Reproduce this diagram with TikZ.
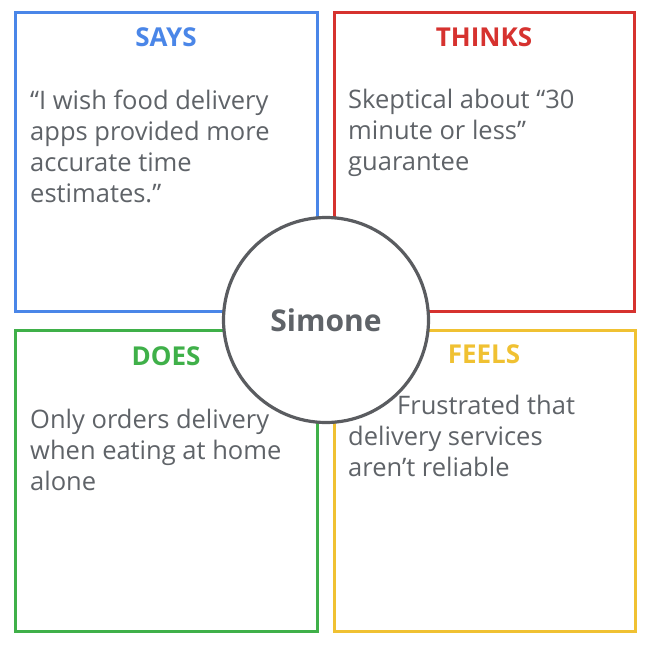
\documentclass[tikz,border=0pt]{standalone}
\usepackage{fontspec}
\setmainfont{Open Sans}
\begin{document}
\begin{tikzpicture}[x=1pt,y=-1pt,
  quad/.style={line width=3pt},
  head/.style={font=\fontsize{26}{30}\selectfont\bfseries, anchor=base, inner sep=0pt},
  % a multi-line node's base anchor sits on its last line
  body/.style={font=\fontsize{25.5}{31}\selectfont, text=txtgray, anchor=base west, align=left, inner sep=0pt},
  hub/.style={circle, draw=hubgray, line width=3.2pt, fill=white, minimum size=205pt, inner sep=0pt,
              font=\fontsize{30}{34}\selectfont\bfseries, text=txtgray}]
\definecolor{gblue}{HTML}{4A86E8}
\definecolor{gred}{HTML}{D6322F}
\definecolor{ggreen}{HTML}{3FB049}
\definecolor{gyellow}{HTML}{F0C132}
\definecolor{txtgray}{HTML}{5F6368}
\definecolor{hubgray}{HTML}{5A5C60}
\useasboundingbox[fill=white] (0,0) rectangle (648,648);

% the four quadrants
\draw[quad, draw=gblue]   (15,12)  rectangle (317,311);
\draw[quad, draw=gred]    (334,12) rectangle (634,311);
\draw[quad, draw=ggreen]  (15,330) rectangle (317,631);
\draw[quad, draw=gyellow] (334,330) rectangle (635,631);

% headings
\node[head, text=gblue]   (says)   at (166,46)  {SAYS};
\node[head, text=gred]    (thinks) at (484,46)  {THINKS};
\node[head, text=ggreen]  (does)   at (166,365) {DOES};
\node[head, text=gyellow] (feels)  at (484,363) {FEELS};

% notes
\node[body] (saysnote) at (30,202)
  {“I wish food delivery\\apps provided more\\accurate time\\estimates.”};
\node[body] (thinksnote) at (348,170)
  {Skeptical about “30\\minute or less”\\guarantee};
\node[body] (doesnote) at (30,490)
  {Only orders delivery\\when eating at home\\alone};
\node[body] (feelsnote) at (348,476)
  {\hspace*{49pt}Frustrated that\\delivery services\\aren’t reliable};

% persona in the middle
\node[hub] (simone) at (326,320) {Simone};
\end{tikzpicture}
\end{document}
